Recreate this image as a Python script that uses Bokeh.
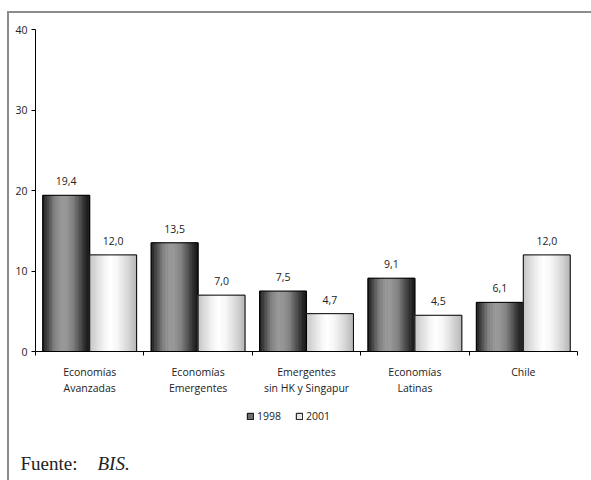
import numpy as np
from bokeh.plotting import figure
from bokeh.layouts import column
from bokeh.models import (FixedTicker, LinearAxis, Range1d, Label, Legend,
                          LegendItem, ColumnDataSource, InlineStyleSheet)
from bokeh.embed import file_html
from bokeh.resources import INLINE
from bokeh.core.properties import value

# --- data -------------------------------------------------------------
categories = ["Economías\nAvanzadas", "Economías\nEmergentes",
              "Emergentes\nsin HK y Singapur", "Economías\nLatinas", "Chile"]
v1998 = [19.4, 13.5, 7.5, 9.1, 6.1]
v2001 = [12.0, 7.0, 4.7, 4.5, 12.0]
series_names = ["1998", "2001"]
y_ticks = [0, 10, 20, 30, 40]
Y_MAX = 40

FONT = "Open Sans"
TEXT = "#222222"
W = 591
H_CHART, H_NOTE = 410, 70          # chart on top, legend + source note below
BORDER_L, BORDER_R, BORDER_T, BORDER_B = 35, 14, 29, 59

# --- shading profiles for the cylinder-like bars (position, grey level) -
DARK_STOPS = ([0, .1, .25, .4, .5, .65, .8, .92, 1],
              [25, 64, 126, 152, 150, 128, 78, 40, 22])
LIGHT_STOPS = ([0, .15, .35, .45, .6, .8, 1],
               [195, 220, 248, 255, 246, 218, 182])
N_STRIPS = 30
GROUP = 0.866          # share of a category used by the pair of bars
BAR_W = GROUP / 2


def hexgrey(g):
    g = int(round(g))
    return "#%02x%02x%02x" % (g, g, g)


def strips(values, offset, stops):
    left, right, top, color = [], [], [], []
    for i, v in enumerate(values):
        x0 = i + (1 - GROUP) / 2 + offset
        for k in range(N_STRIPS):
            t = (k + 0.5) / N_STRIPS
            left.append(x0 + BAR_W * k / N_STRIPS)
            right.append(x0 + BAR_W * (k + 1) / N_STRIPS)
            top.append(v)
            color.append(hexgrey(np.interp(t, *stops)))
    return dict(left=left, right=right, top=top, bottom=[0] * len(top), color=color)


p = figure(width=W, height=H_CHART, output_backend="svg", toolbar_location=None,
           x_range=Range1d(0, len(categories)), y_range=Range1d(0, Y_MAX),
           x_axis_type=None, y_axis_type=None,
           min_border_left=BORDER_L, min_border_right=BORDER_R,
           min_border_top=BORDER_T, min_border_bottom=BORDER_B)
p.outline_line_color = None
p.background_fill_color = None
p.border_fill_color = None

# --- bars ---------------------------------------------------------------
for vals, off, stops in ((v1998, 0, DARK_STOPS), (v2001, BAR_W, LIGHT_STOPS)):
    src = ColumnDataSource(strips(vals, off, stops))
    p.quad(left="left", right="right", top="top", bottom="bottom",
           fill_color="color", line_color="color", line_width=0.8, source=src)
    lefts = [i + (1 - GROUP) / 2 + off for i in range(len(vals))]
    p.quad(left=lefts, right=[l + BAR_W for l in lefts], top=vals,
           bottom=0, fill_color=None, line_color="black", line_width=1)
    # value labels above each bar
    p.text(x=[l + BAR_W / 2 for l in lefts], y=vals,
           text=[f"{v:.1f}".replace(".", ",") for v in vals],
           text_align="center", text_baseline="alphabetic", y_offset=-14,
           text_font=value(FONT), text_font_size="10.5px", text_color=TEXT)

# --- axes ---------------------------------------------------------------
yaxis = LinearAxis(ticker=FixedTicker(ticks=y_ticks))
yaxis.major_tick_in = 0
yaxis.major_tick_out = 4
yaxis.minor_tick_out = 0
yaxis.axis_line_color = "black"
yaxis.major_tick_line_color = "black"
yaxis.major_label_standoff = 4
yaxis.major_label_text_font = FONT
yaxis.major_label_text_font_size = "10.5px"
yaxis.major_label_text_color = TEXT
p.add_layout(yaxis, "left")

centers = [i + 0.5 for i in range(len(categories))]
xaxis = LinearAxis(ticker=FixedTicker(ticks=centers,
                                      minor_ticks=list(range(len(categories) + 1))))
xaxis.major_tick_in = 0
xaxis.major_tick_out = 0
xaxis.minor_tick_in = 0
xaxis.minor_tick_out = 4
xaxis.minor_tick_line_color = "black"
xaxis.axis_line_color = "black"
xaxis.major_label_overrides = {c: lab for c, lab in zip(centers, categories)}
xaxis.major_label_standoff = 9
xaxis.major_label_text_font = FONT
xaxis.major_label_text_font_size = "10.5px"
xaxis.major_label_text_color = TEXT
xaxis.major_label_text_line_height = 1.15
p.add_layout(xaxis, "below")

# --- legend and source note strip ---------------------------------------
note = figure(width=W, height=H_NOTE, output_backend="svg", toolbar_location=None,
              x_range=Range1d(0, W), y_range=Range1d(0, H_NOTE),
              x_axis_type=None, y_axis_type=None, min_border=0)
note.frame_align = False
note.outline_line_color = None
note.background_fill_color = None
note.border_fill_color = None
note.grid.visible = False

k1 = note.quad(left=[0], right=[0], top=[0], bottom=[0],
               fill_color="#6e6e6e", line_color="black")
k2 = note.quad(left=[0], right=[0], top=[0], bottom=[0],
               fill_color="#e6e6e6", line_color="black")
legend = Legend(items=[LegendItem(label=series_names[0], renderers=[k1]),
                       LegendItem(label=series_names[1], renderers=[k2])],
                orientation="horizontal", location=(246, H_NOTE - 13),
                glyph_width=8, glyph_height=8, label_standoff=3, spacing=14,
                padding=0, margin=0, border_line_color=None,
                background_fill_alpha=0, label_text_font=FONT,
                label_text_font_size="10.5px", label_text_color=TEXT)
note.add_layout(legend, "center")

NOTE_BASE = H_CHART + H_NOTE - 463
note.add_layout(Label(x=20, y=NOTE_BASE, x_units="screen", y_units="screen",
                      text="Fuente:", text_font="Liberation Serif",
                      text_font_size="19px", text_color="#222222",
                      text_baseline="alphabetic"))
note.add_layout(Label(x=97, y=NOTE_BASE, x_units="screen", y_units="screen",
                      text="BIS.", text_font="Liberation Serif",
                      text_font_style="italic",
                      text_font_size="19px", text_color="#222222",
                      text_baseline="alphabetic"))

# top and left rules of the page frame
page = column(p, note, spacing=0, stylesheets=[InlineStyleSheet(css="""
:host { background: white; }
:host::after {
  content: ""; position: absolute; left: 7px; top: 11px;
  width: 600px; height: 500px; box-sizing: border-box;
  border-top: 2px solid #8c8c8c; border-left: 2px solid #8c8c8c;
  pointer-events: none;
}
""")])

open("out.html", "w").write(file_html(page, INLINE))
